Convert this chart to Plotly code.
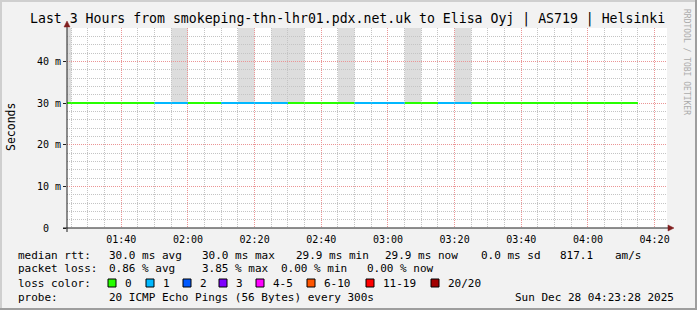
import plotly.graph_objects as go
from datetime import datetime, timedelta

# ---------------- data ----------------
DAY = "2025-12-28"
STEP_MIN = 5

step_end = ["01:25", "01:30", "01:35", "01:40", "01:45", "01:50",
            "01:55", "02:00", "02:05", "02:10", "02:15", "02:20",
            "02:25", "02:30", "02:35", "02:40", "02:45", "02:50",
            "02:55", "03:00", "03:05", "03:10", "03:15", "03:20",
            "03:25", "03:30", "03:35", "03:40", "03:45", "03:50",
            "03:55", "04:00", "04:05", "04:10", "04:15"]
loss_idx = [0, 0, 0, 0, 0, 0,
            1, 1, 0, 0, 1, 1,
            1, 1, 0, 0, 0, 0,
            1, 1, 1, 0, 0, 1,
            1, 0, 0, 0, 0, 0,
            0, 0, 0, 0, 0]
rtt_ms = [30.0, 30.0, 30.0, 30.0, 30.0, 30.0,
          30.0, 30.0, 30.0, 30.0, 30.0, 30.0,
          30.0, 30.0, 30.0, 30.0, 30.0, 30.0,
          30.0, 30.0, 30.0, 30.0, 30.0, 30.0,
          30.0, 30.0, 30.0, 30.0, 30.0, 30.0,
          30.0, 30.0, 30.0, 30.0, 30.0]

# smoke bands (lost pings)
band_start = ["01:20", "01:55", "02:15", "02:25", "02:45", "03:05", "03:20"]
band_end = ["01:25", "02:00", "02:20", "02:35", "02:50", "03:10", "03:25"]
band_base = [30.0, 30.0, 30.0, 30.0, 30.0, 30.0, 30.0]

X_START = "2025-12-28 01:23:43"
X_END = "2025-12-28 04:23:43"
Y_MAX = 48.0

y_tickvals = [0, 10, 20, 30, 40]
y_ticktext = ["0\u00a0\u00a0", "10 m", "20 m", "30 m", "40 m"]

loss_labels = ["0", "1", "2", "3", "4-5", "6-10", "11-19", "20/20"]
loss_colors = ["#26ff00", "#00b8ff", "#0059ff", "#7e00ff",
               "#ff00ff", "#ff5500", "#ff0000", "#a10000"]

title_text = "Last 3 Hours from smokeping-thn-lhr01.pdx.net.uk to Elisa Oyj | AS719 | Helsinki"
rtt_stats = ["30.0 ms avg", "30.0 ms max", "29.9 ms min", "29.9 ms now", "0.0 ms sd", "817.1", "am/s"]
loss_stats = ["0.86 % avg", "3.85 % max", "0.00 % min", "0.00 % now"]
probe_text = "20 ICMP Echo Pings (56 Bytes) every 300s"
stamp_text = "Sun Dec 28 04:23:28 2025"

# ---------------- layout constants ----------------
FW, FH = 697, 310
L, R, T, B = 67, 30, 28, 82
W = FW - L - R
H = FH - T - B
MONO = "DejaVu Sans Mono"


def PX(x):
    return (x - L) / W


def PY(y):
    return (T + H - y) / H


def ts(hm):
    return datetime.strptime(f"{DAY} {hm}", "%Y-%m-%d %H:%M")


fig = go.Figure()

for k, (lab, col) in enumerate(zip(loss_labels, loss_colors)):
    xs, ys = [], []
    for e, li, r in zip(step_end, loss_idx, rtt_ms):
        if li == k:
            end = ts(e)
            start = end - timedelta(minutes=STEP_MIN)
            xs += [start, end, None]
            ys += [r, r, None]
    if xs:
        fig.add_trace(go.Scatter(x=xs, y=ys, mode="lines",
                                 line=dict(color=col, width=2),
                                 hoverinfo="skip", showlegend=False))

shapes = []
for s, e, b in zip(band_start, band_end, band_base):
    shapes.append(dict(type="rect", xref="x", yref="y", x0=ts(s), x1=ts(e),
                       y0=b, y1=Y_MAX, fillcolor="#dddddd", line_width=0, layer="below"))

# frame shading
shapes += [
    dict(type="rect", xref="paper", yref="paper", x0=PX(0), x1=PX(FW), y0=PY(0), y1=PY(2),
         fillcolor="#cfcfcf", line_width=0, layer="above"),
    dict(type="rect", xref="paper", yref="paper", x0=PX(0), x1=PX(2), y0=PY(0), y1=PY(FH),
         fillcolor="#cfcfcf", line_width=0, layer="above"),
    dict(type="rect", xref="paper", yref="paper", x0=PX(0), x1=PX(FW), y0=PY(FH - 2), y1=PY(FH),
         fillcolor="#9e9e9e", line_width=0, layer="above"),
    dict(type="rect", xref="paper", yref="paper", x0=PX(FW - 2), x1=PX(FW), y0=PY(0), y1=PY(FH),
         fillcolor="#9e9e9e", line_width=0, layer="above"),
]
# axes lines
shapes += [
    dict(type="line", xref="paper", yref="paper", x0=PX(63), x1=PX(669), y0=PY(228), y1=PY(228),
         line=dict(color="#1f1f1f", width=1), layer="above"),
    dict(type="line", xref="paper", yref="paper", x0=PX(67), x1=PX(67), y0=PY(232), y1=PY(25),
         line=dict(color="#1f1f1f", width=1), layer="above"),
    dict(type="path", xref="paper", yref="paper",
         path=f"M {PX(668)} {PY(225)} L {PX(674)} {PY(228)} L {PX(668)} {PY(231)} Z",
         fillcolor="#801f1f", line=dict(color="#801f1f", width=0.5), layer="above"),
    dict(type="path", xref="paper", yref="paper",
         path=f"M {PX(64)} {PY(27)} L {PX(67)} {PY(21)} L {PX(70)} {PY(27)} Z",
         fillcolor="#801f1f", line=dict(color="#801f1f", width=0.5), layer="above"),
]

ann = []


def txt(x, y, s, size=11, anchor="left", color="#000000", angle=0, family=MONO):
    ann.append(dict(x=PX(x), y=PY(y), xref="paper", yref="paper", text=s.replace(" ", "\u00a0"),
                    showarrow=False, xanchor=anchor, yanchor="middle", textangle=angle,
                    font=dict(family=family, size=size, color=color)))


txt(347, 19, title_text, size=13.2, anchor="center")
txt(11, 127, "Seconds", size=11.5, anchor="center", angle=-90)
txt(687, 62, "RRDTOOL / TOBI OETIKER", size=8, anchor="center", angle=90, color="#ababab")

# legend rows
row1 = [16, 107, 200, 294, 383, 479, 558, 613]
txt(row1[0], 255, "median rtt:")
for x, s in zip(row1[1:], rtt_stats):
    txt(x, 255, s)

row2 = [16, 107, 200, 279, 365]
txt(row2[0], 268, "packet loss:")
for x, s in zip(row2[1:], loss_stats):
    txt(x, 268, s)

txt(16, 283, "loss color:")
box_x = [108, 146, 183, 219, 256, 307, 366, 431]
for bx, lab, col in zip(box_x, loss_labels, loss_colors):
    shapes.append(dict(type="rect", xref="paper", yref="paper", x0=PX(bx), x1=PX(bx + 8),
                       y0=PY(287), y1=PY(279), fillcolor=col,
                       line=dict(color="#000000", width=1), layer="above"))
    txt(bx + 15, 283, lab)

txt(16, 297, "probe:")
txt(107, 297, probe_text)
txt(513, 297, stamp_text)

fig.update_layout(
    width=FW, height=FH,
    margin=dict(l=L, r=R, t=T, b=B, pad=0),
    paper_bgcolor="#f2f2f2", plot_bgcolor="#ffffff",
    showlegend=False,
    shapes=shapes, annotations=ann,
    xaxis=dict(type="date", range=[X_START, X_END],
               tick0="2025-12-28 00:00:00", dtick=20 * 60 * 1000, tickformat="%H:%M",
               showgrid=True, gridcolor="#eb9595", griddash="1px,1px", gridwidth=1,
               minor=dict(dtick=5 * 60 * 1000, tick0="2025-12-28 00:00:00", showgrid=True,
                          gridcolor="#c4c4c4", griddash="1px,1px", gridwidth=1),
               ticks="outside", ticklen=2, tickcolor="rgba(0,0,0,0)",
               showline=False, zeroline=False, fixedrange=True,
               tickfont=dict(family=MONO, size=10, color="#000000")),
    yaxis=dict(range=[0, Y_MAX], tickvals=y_tickvals, ticktext=y_ticktext,
               showgrid=True, gridcolor="#eb9595", griddash="1px,1px", gridwidth=1,
               minor=dict(dtick=2, showgrid=True, gridcolor="#c4c4c4",
                          griddash="1px,1px", gridwidth=1),
               ticks="outside", ticklen=3, tickcolor="#1f1f1f",
               showline=False, zeroline=False, fixedrange=True,
               tickfont=dict(family=MONO, size=10, color="#000000")),
)

fig.write_html("out.html")
